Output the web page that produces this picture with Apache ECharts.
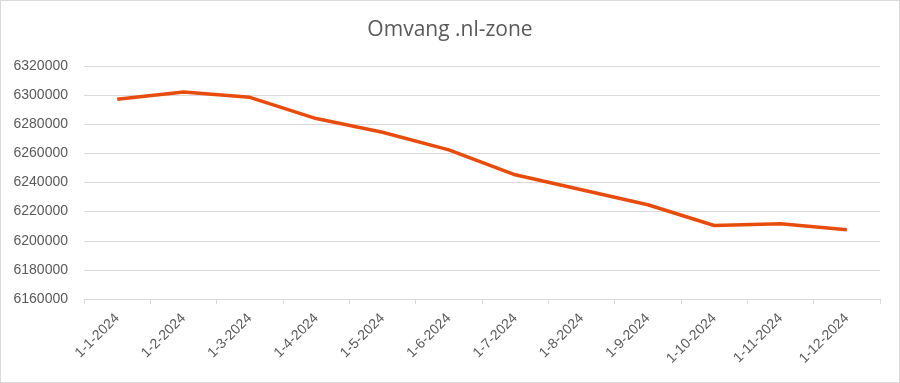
<!DOCTYPE html>
<html><head><meta charset="utf-8">
<script src="https://cdn.jsdelivr.net/npm/echarts@6/dist/echarts.min.js"></script>
<style>html,body{margin:0;padding:0;background:#fff}#c{width:898px;height:381px;border:1px solid #d9d9d9}</style>
</head><body><div id="c"></div>
<script>
const categories = ['1-1-2024','1-2-2024','1-3-2024','1-4-2024','1-5-2024','1-6-2024','1-7-2024','1-8-2024','1-9-2024','1-10-2024','1-11-2024','1-12-2024'];
const values = [6297100, 6302200, 6298500, 6283900, 6274500, 6262400, 6245300, 6235000, 6224700, 6210500, 6211700, 6207500];
const yMin = 6160000, yMax = 6320000, yStep = 20000;
const title = 'Omvang .nl-zone';

const chart = echarts.init(document.getElementById('c'));
chart.setOption({
  animation: false,
  title: {text: title, left: 'center', top: 14, textStyle: {fontFamily: 'Open Sans', fontWeight: 'normal', fontSize: 21, color: '#595959'}},
  grid: {left: 83, right: 19, top: 65, bottom: 83},
  xAxis: {type: 'category', data: categories, boundaryGap: true,
    axisLine: {lineStyle: {color: '#d9d9d9'}},
    axisTick: {show: true, length: 5, lineStyle: {color: '#d9d9d9'}},
    axisLabel: {rotate: 45, color: '#595959', fontFamily: 'Liberation Sans', fontSize: 14, margin: 17}},
  yAxis: {type: 'value', min: yMin, max: yMax, interval: yStep,
    axisLine: {show: false}, axisTick: {show: false},
    splitLine: {lineStyle: {color: '#d9d9d9'}},
    axisLabel: {color: '#595959', fontFamily: 'Liberation Sans', fontSize: 14, margin: 16, formatter: v => String(v)}},
  series: [{type: 'line', data: values, symbol: 'none', lineStyle: {color: '#E84C0C', width: 3.5}}]
});
</script></body></html>
